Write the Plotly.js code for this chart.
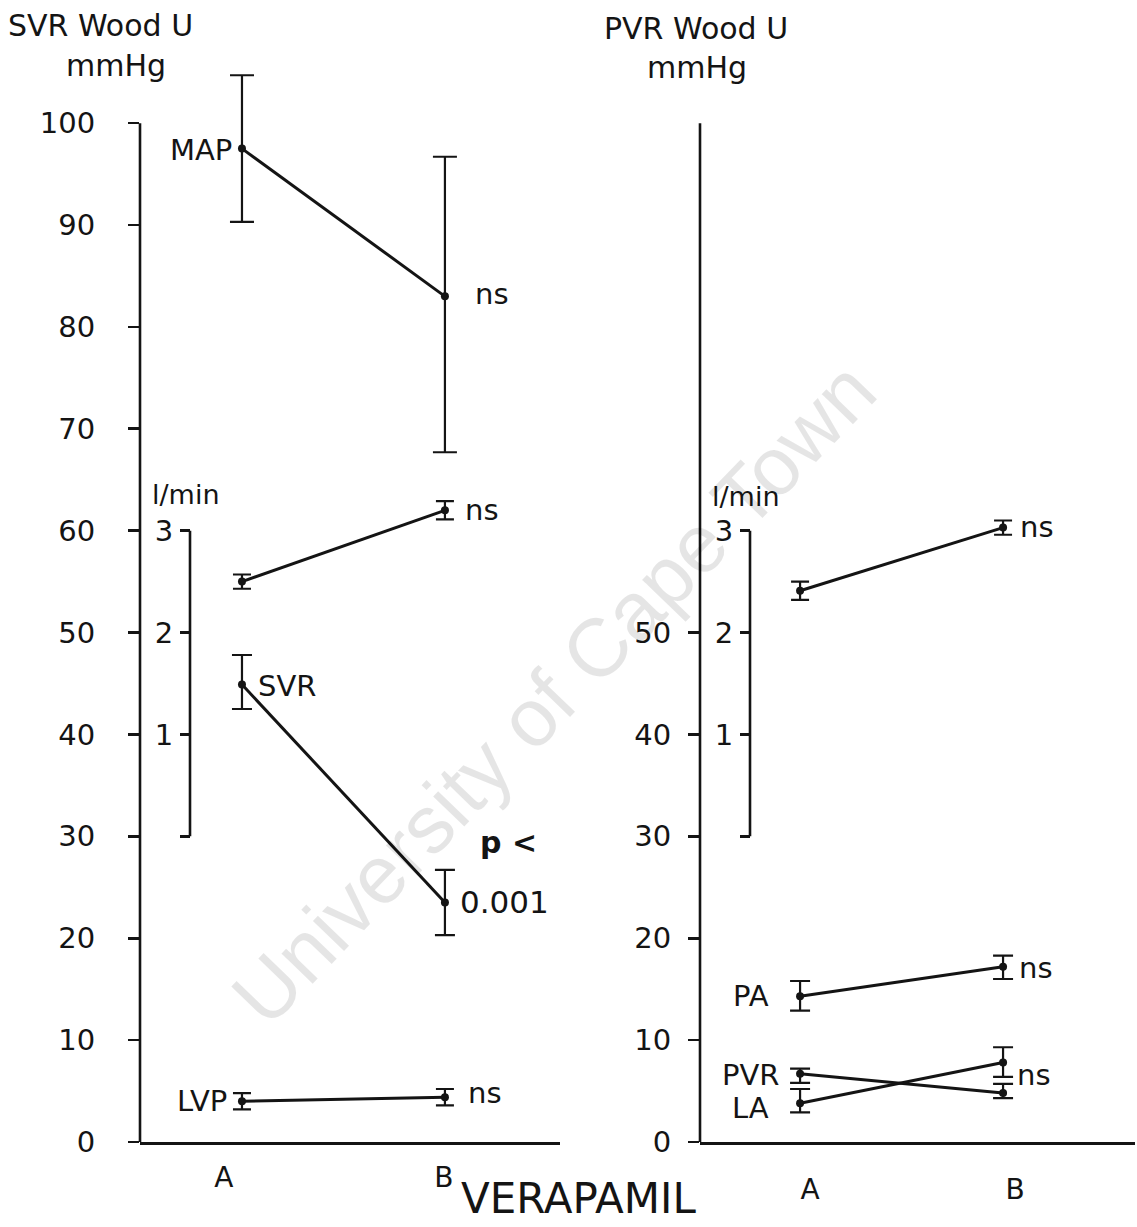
<!DOCTYPE html>
<html>
<head>
<meta charset="utf-8">
<script src="https://cdn.plot.ly/plotly-3.0.1.min.js"></script>
<style>html,body{margin:0;padding:0;background:#fff;}#chart{width:1137px;height:1227px;}</style>
</head>
<body>
<div id="chart"></div>
<script>
// ---- data ----
const groups = ['A', 'B'];
// left panel (systemic)
const mapMean = [97.5, 83.0], mapHi = [104.7, 96.7], mapLo = [90.3, 67.7];       // mmHg
const coLeft = [2.5, 3.2], coLeftHi = [2.57, 3.29], coLeftLo = [2.43, 3.11];      // l/min
const svrMean = [44.9, 23.5], svrHi = [47.8, 26.7], svrLo = [42.5, 20.3];          // Wood U
const lvpMean = [4.0, 4.4], lvpHi = [4.8, 5.2], lvpLo = [3.2, 3.6];                // mmHg
// right panel (pulmonary)
const coRight = [2.41, 3.03], coRightHi = [2.5, 3.1], coRightLo = [2.32, 2.96];    // l/min
const paMean = [14.3, 17.2], paHi = [15.8, 18.3], paLo = [12.9, 16.0];             // mmHg
const pvrMean = [6.7, 4.8], pvrHi = [7.2, 5.7], pvrLo = [5.8, 4.3];                // Wood U
const laMean = [3.8, 7.8], laHi = [5.2, 9.3], laLo = [2.9, 6.4];                   // mmHg
const leftTicks = [0, 10, 20, 30, 40, 50, 60, 70, 80, 90, 100];
const rightTicks = [0, 10, 20, 30, 40, 50];
const flowTicks = [0, 1, 2, 3];
const flowTickText = ['', '1', '2', '3'];

// ---- layout helpers ----
const W = 1137, H = 1227;
const mL = 140, mR = 2, mT = 62, mB = 85;
const pw = W - mL - mR, ph = H - mT - mB;
const px = x => (x - mL) / pw;
const py = y => (H - mB - y) / ph;
const FONT = 'DejaVu Sans, Liberation Sans, Arial, sans-serif';
const INK = '#141414';
const gx = groups.map((g, i) => i);   // group index on a linear x axis

function series(xa, ya, mean, hi, lo, capw) {
  return {
    type: 'scatter', mode: 'lines+markers', x: gx, y: mean,
    xaxis: xa, yaxis: ya, cliponaxis: false, showlegend: false, hoverinfo: 'skip',
    line: {color: INK, width: 3},
    marker: {color: INK, size: 8},
    error_y: {type: 'data', symmetric: false,
      array: hi.map((h, i) => h - mean[i]),
      arrayminus: lo.map((l, i) => mean[i] - l),
      color: INK, thickness: 2.2, width: capw}
  };
}

const data = [
  series('x', 'y', mapMean, mapHi, mapLo, 12),
  series('x', 'y3', coLeft, coLeftHi, coLeftLo, 9),
  series('x', 'y', svrMean, svrHi, svrLo, 10),
  series('x', 'y', lvpMean, lvpHi, lvpLo, 9),
  series('x2', 'y4', coRight, coRightHi, coRightLo, 9),
  series('x2', 'y2', paMean, paHi, paLo, 10),
  series('x2', 'y2', pvrMean, pvrHi, pvrLo, 10),
  series('x2', 'y2', laMean, laHi, laLo, 10)
];

const tickFont = {family: FONT, size: 29, color: INK};
const yBase = {range: [0, 106], showgrid: false, zeroline: false, showline: false,
  ticks: 'outside', ticklen: 11, tickwidth: 2.6, tickcolor: INK, tickfont: tickFont,
  fixedrange: true};
const xBase = {type: 'linear', showgrid: false, zeroline: false, showline: true,
  linecolor: INK, linewidth: 3, ticks: '', tickfont: {family: FONT, size: 28, color: INK},
  fixedrange: true, ticktext: groups};

function ann(text, x, y, xanchor, opts) {
  return Object.assign({text: text, xref: 'paper', yref: 'paper', x: px(x), y: py(y),
    xanchor: xanchor, yanchor: 'middle', showarrow: false,
    font: {family: FONT, size: 29, color: INK}}, opts || {});
}

const layout = {
  width: W, height: H,
  margin: {l: mL, r: mR, t: mT, b: mB, pad: 0},
  paper_bgcolor: '#fff', plot_bgcolor: 'rgba(0,0,0,0)',
  showlegend: false,
  xaxis: Object.assign({}, xBase, {domain: [0, 420 / pw], range: [-0.5025, 1.567], anchor: 'y',
    tickvals: [-0.089, 0.995], ticklabelstandoff: 8}),
  xaxis2: Object.assign({}, xBase, {domain: [560 / pw, 1], range: [-0.493, 1.650], anchor: 'y2',
    tickvals: [0.049, 1.059], ticklabelstandoff: 20}),
  yaxis: Object.assign({}, yBase, {anchor: 'x', tickvals: leftTicks, ticklabelstandoff: 27}),
  yaxis2: Object.assign({}, yBase, {anchor: 'x2', tickvals: rightTicks, ticklabelstandoff: 11}),
  yaxis3: Object.assign({}, yBase, {overlaying: 'y', anchor: 'free', position: px(190), side: 'left',
    range: [-3, 7.6], tickvals: flowTicks, ticktext: flowTickText, ticklen: 10, ticklabelstandoff: 1}),
  yaxis4: Object.assign({}, yBase, {overlaying: 'y2', anchor: 'free', position: px(750), side: 'left',
    range: [-3, 7.6], tickvals: flowTicks, ticktext: flowTickText, ticklen: 10, ticklabelstandoff: 1}),
  shapes: [
    {type: 'line', xref: 'x domain', yref: 'y', x0: 0, x1: 0, y0: 0, y1: 100, line: {color: INK, width: 2.6}},
    {type: 'line', xref: 'x2 domain', yref: 'y2', x0: 0, x1: 0, y0: 0, y1: 100, line: {color: INK, width: 2.6}},
    {type: 'line', xref: 'paper', yref: 'y3', x0: px(190), x1: px(190), y0: 0, y1: 3, line: {color: INK, width: 2.6}},
    {type: 'line', xref: 'paper', yref: 'y4', x0: px(750), x1: px(750), y0: 0, y1: 3, line: {color: INK, width: 2.6}}
  ],
  annotations: [
    {text: 'University of Cape Town', xref: 'paper', yref: 'paper', x: px(553), y: py(693),
      showarrow: false, textangle: -46, font: {family: 'Liberation Sans, Arial, sans-serif', size: 82, color: 'rgba(0,0,0,0.10)'}},
    ann('SVR Wood U', 100, 26, 'center', {font: {family: FONT, size: 30, color: INK}}),
    ann('mmHg', 116, 66, 'center', {font: {family: FONT, size: 30, color: INK}}),
    ann('PVR Wood U', 696, 28, 'center', {font: {family: FONT, size: 30, color: INK}}),
    ann('mmHg', 697, 68, 'center', {font: {family: FONT, size: 30, color: INK}}),
    ann('l/min', 150, 494, 'left', {font: {family: FONT, size: 27, color: INK}}),
    ann('l/min', 710, 496, 'left', {font: {family: FONT, size: 27, color: INK}}),
    ann('MAP', 234, 150, 'right'),
    ann('ns', 473, 294, 'left'),
    ann('ns', 463, 510, 'left'),
    ann('SVR', 256, 686, 'left'),
    ann('<b>p &lt;</b>', 478, 842, 'left', {font: {family: FONT, size: 30, color: INK}}),
    ann('0.001', 458, 902, 'left', {font: {family: FONT, size: 31, color: INK}}),
    ann('LVP', 229, 1101, 'right'),
    ann('ns', 466, 1093, 'left'),
    ann('ns', 1018, 527, 'left'),
    ann('PA', 771, 996, 'right'),
    ann('ns', 1017, 968, 'left'),
    ann('PVR', 781, 1075, 'right'),
    ann('LA', 771, 1108, 'right'),
    ann('ns', 1015, 1075, 'left'),
    ann('VERAPAMIL', 578, 1198, 'center', {font: {family: FONT, size: 42, color: INK}})
  ]
};

Plotly.newPlot('chart', data, layout, {staticPlot: true, displayModeBar: false});
</script>
</body>
</html>
